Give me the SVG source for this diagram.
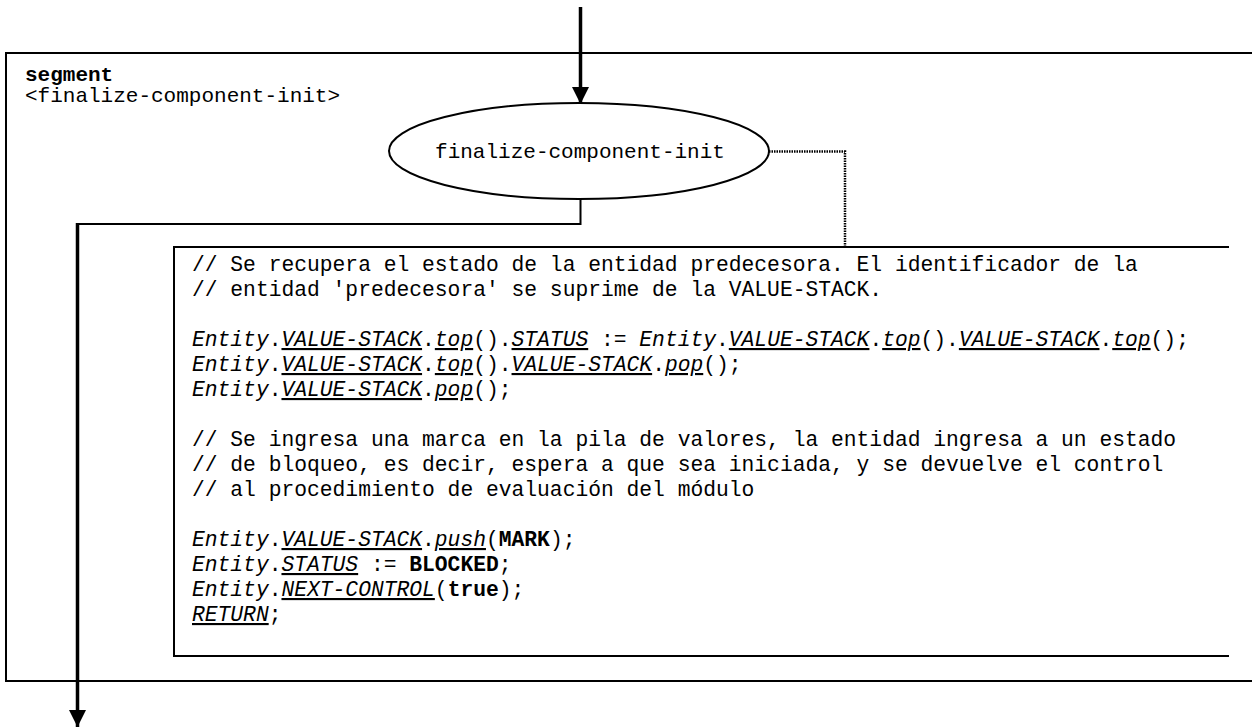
<svg xmlns="http://www.w3.org/2000/svg" width="1252" height="728" viewBox="0 0 1252 728">
<style>
.m{font-family:"Liberation Mono","Courier New",monospace;font-size:21px;fill:#000}
.c{font-size:21.3px}
.i{font-style:italic}
.u{font-style:italic;text-decoration:underline}
.b{font-weight:bold}
.ln{fill:none;stroke:#000;stroke-width:2}
.th{fill:none;stroke:#000;stroke-width:3.5}
.dot{fill:none;stroke:#000;stroke-width:2.5;stroke-dasharray:1.5 1}
</style>
<defs>
<marker id="ah" viewBox="0 0 10 10" refX="10" refY="5" markerWidth="17" markerHeight="17" markerUnits="userSpaceOnUse" orient="auto">
<path d="M0,0 L10,5 L0,10 Z" fill="#000"/>
</marker>
</defs>
<g id="segment-frame">
<path class="ln" d="M1252,53 H6 V681 H1252"/>
<text class="m b" x="25" y="81">segment</text>
<text class="m" x="25" y="102">&lt;finalize-component-init&gt;</text>
</g>
<g id="node-finalize">
<ellipse class="ln" cx="579" cy="151" rx="190" ry="48" fill="#fff"/>
<text class="m" x="580" y="158" text-anchor="middle">finalize-component-init</text>
</g>
<g id="node-comment">
<path class="ln" d="M1229,247 H174 V656 H1229"/>
<text class="m c" x="192" y="271">// Se recupera el estado de la entidad predecesora. El identificador de la</text>
<text class="m c" x="192" y="296">// entidad 'predecesora' se suprime de la VALUE-STACK.</text>
<text class="m c" x="192" y="346"><tspan class="i">Entity</tspan>.<tspan class="u">VALUE-STACK</tspan>.<tspan class="u">top</tspan>().<tspan class="u">STATUS</tspan> := <tspan class="i">Entity</tspan>.<tspan class="u">VALUE-STACK</tspan>.<tspan class="u">top</tspan>().<tspan class="u">VALUE-STACK</tspan>.<tspan class="u">top</tspan>();</text>
<text class="m c" x="192" y="371"><tspan class="i">Entity</tspan>.<tspan class="u">VALUE-STACK</tspan>.<tspan class="u">top</tspan>().<tspan class="u">VALUE-STACK</tspan>.<tspan class="u">pop</tspan>();</text>
<text class="m c" x="192" y="396"><tspan class="i">Entity</tspan>.<tspan class="u">VALUE-STACK</tspan>.<tspan class="u">pop</tspan>();</text>
<text class="m c" x="192" y="446">// Se ingresa una marca en la pila de valores, la entidad ingresa a un estado</text>
<text class="m c" x="192" y="471">// de bloqueo, es decir, espera a que sea iniciada, y se devuelve el control</text>
<text class="m c" x="192" y="496">// al procedimiento de evaluación del módulo</text>
<text class="m c" x="192" y="546"><tspan class="i">Entity</tspan>.<tspan class="u">VALUE-STACK</tspan>.<tspan class="u">push</tspan>(<tspan class="b">MARK</tspan>);</text>
<text class="m c" x="192" y="571"><tspan class="i">Entity</tspan>.<tspan class="u">STATUS</tspan> := <tspan class="b">BLOCKED</tspan>;</text>
<text class="m c" x="192" y="596"><tspan class="i">Entity</tspan>.<tspan class="u">NEXT-CONTROL</tspan>(<tspan class="b">true</tspan>);</text>
<text class="m c" x="192" y="621"><tspan class="u">RETURN</tspan>;</text>
</g>
<g id="connectors">
<line class="th" x1="580.5" y1="7" x2="580.5" y2="104" marker-end="url(#ah)"/>
<polyline class="ln" points="580.5,199 580.5,224 77.5,224"/>
<line class="th" x1="77.5" y1="223" x2="77.5" y2="727" marker-end="url(#ah)"/>
<polyline class="dot" points="769,151.5 845,151.5 845,247"/>
</g>
</svg>
